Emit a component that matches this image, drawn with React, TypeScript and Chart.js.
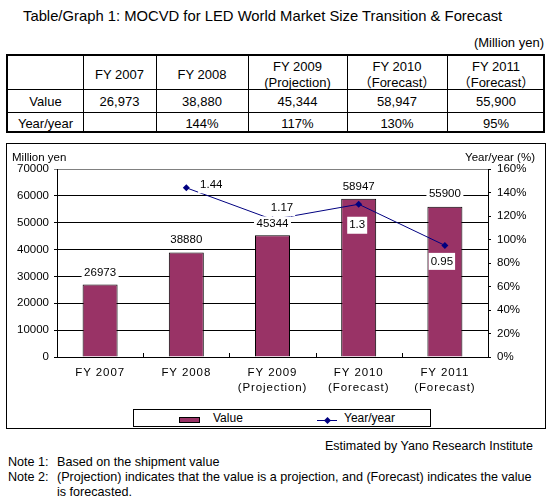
import React, { useEffect, useRef } from "react";
import { Chart, registerables } from "chart.js";

Chart.register(...registerables);

// ---------- data ----------
const xLabels: (string | string[])[] = [
  "FY 2007",
  "FY 2008",
  ["FY 2009", "(Projection)"],
  ["FY 2010", "(Forecast)"],
  ["FY 2011", "(Forecast)"],
];
const tableHeaders: string[][] = [
  ["FY 2007"],
  ["FY 2008"],
  ["FY 2009", "(Projection)"],
  ["FY 2010", "（Forecast）"],
  ["FY 2011", "（Forecast）"],
];
const values: number[] = [26973, 38880, 45344, 58947, 55900];
const yoy: (number | null)[] = [null, 1.44, 1.17, 1.3, 0.95];
const tableValues: string[] = ["26,973", "38,880", "45,344", "58,947", "55,900"];
const tableYoy: string[] = ["", "144%", "117%", "130%", "95%"];
const seriesNames: string[] = ["Value", "Year/year"];

// ---------- styles / layout ----------
const FONT = '"Liberation Sans", Arial, "Noto Sans CJK JP", sans-serif';
const BAR_COLOR = "#993366";
const LINE_COLOR = "#000080";
const barLabelDy = [-12, -12.5, -11, -12, -13.5];
const lineLabelOffsets: ([number, number] | null)[] = [null, [25, -3], [9.5, -12], [-1.5, 21], [-3, 16]];
const colEdges = [6, 83, 156, 248, 347, 447, 545];
const rowEdges = [54, 89, 112, 133];

const labelPlugin = {
  id: "valueLabels",
  afterDatasetsDraw(chart: any) {
    const ctx: CanvasRenderingContext2D = chart.ctx;
    ctx.save();
    ctx.font = `11.5px ${FONT}`;
    ctx.textAlign = "center";
    ctx.textBaseline = "middle";
    const drawBox = (text: string, x: number, y: number, px: number, py: number) => {
      const w = ctx.measureText(text).width;
      const h = 12;
      ctx.fillStyle = "#fff";
      ctx.fillRect(x - w / 2 - px, y - h / 2 - py, w + 2 * px, h + 2 * py);
      ctx.fillStyle = "#000";
      ctx.fillText(text, x, y);
    };
    const barMeta = chart.getDatasetMeta(1);
    barMeta.data.forEach((el: any, i: number) => {
      drawBox(String(values[i]), el.x, el.y + barLabelDy[i], 2.5, 1.8);
    });
    const lineMeta = chart.getDatasetMeta(0);
    lineMeta.data.forEach((el: any, i: number) => {
      const v = yoy[i];
      const o = lineLabelOffsets[i];
      if (v == null || !o) return;
      drawBox(String(v), el.x + o[0], el.y + o[1], 2, 2.5);
    });
    // inward tick marks on the category axis
    const xs = chart.scales.x;
    const bottom = chart.chartArea.bottom;
    ctx.strokeStyle = "#000";
    ctx.lineWidth = 1;
    for (let i = 1; i < values.length; i++) {
      const px = Math.round((xs.getPixelForValue(i - 1) + xs.getPixelForValue(i)) / 2) + 0.5;
      ctx.beginPath();
      ctx.moveTo(px, bottom);
      ctx.lineTo(px, bottom - 4);
      ctx.stroke();
    }
    ctx.restore();
    (ctx as any).letterSpacing = "0.9px";
  },
  afterDraw(chart: any) {
    (chart.ctx as any).letterSpacing = "0px";
  },
};

function ChartCanvas() {
  const ref = useRef<HTMLCanvasElement | null>(null);
  useEffect(() => {
    if (!ref.current) return;
    const chart = new Chart(ref.current, {
      type: "bar",
      data: {
        labels: xLabels as any,
        datasets: [
          {
            type: "line",
            label: seriesNames[1],
            data: yoy as any,
            yAxisID: "y1",
            borderColor: LINE_COLOR,
            backgroundColor: LINE_COLOR,
            borderWidth: 1,
            pointStyle: "rectRot",
            pointRadius: 3.5,
            pointBackgroundColor: LINE_COLOR,
            pointBorderColor: LINE_COLOR,
            pointBorderWidth: 0,
            tension: 0,
            order: 0,
          } as any,
          {
            type: "bar",
            label: seriesNames[0],
            data: values,
            yAxisID: "y",
            backgroundColor: BAR_COLOR,
            borderColor: "#000",
            borderWidth: 1,
            barPercentage: 0.406,
            categoryPercentage: 1,
            order: 1,
          } as any,
        ],
      },
      options: {
        responsive: false,
        animation: false,
        devicePixelRatio: 1,
        layout: { padding: { top: 25, left: 0, right: 0, bottom: 0 } },
        plugins: {
          legend: { display: false },
          tooltip: { enabled: false },
        },
        scales: {
          x: {
            type: "category",
            grid: { display: false, drawTicks: false },
            border: { display: true, color: "#000", width: 1 },
            ticks: {
              color: "#000",
              padding: 9,
              maxRotation: 0,
              autoSkip: false,
              z: 1,
              font: { family: FONT, size: 11.5, lineHeight: 1.25 },
            },
            afterFit: (s: any) => {
              s.height = 71;
            },
          },
          y: {
            position: "left",
            min: 0,
            max: 70000,
            ticks: {
              stepSize: 10000,
              color: "#000",
              padding: 5,
              font: { family: FONT, size: 11.5 },
              callback: (v: any) => String(v),
            },
            grid: {
              color: (c: any) => (c.tick && c.tick.value === 70000 ? "#808080" : "#000"),
              lineWidth: 1,
              drawTicks: true,
              tickLength: 3,
            },
            border: { display: true, color: "#000", width: 1 },
            afterFit: (s: any) => {
              s.width = 50;
            },
          },
          y1: {
            position: "right",
            min: 0,
            max: 1.6,
            ticks: {
              stepSize: 0.2,
              color: "#000",
              padding: 6,
              font: { family: FONT, size: 11.5 },
              callback: (v: any) => Math.round(Number(v) * 100) + "%",
            },
            grid: {
              drawOnChartArea: false,
              drawTicks: true,
              tickLength: 3,
              color: "#000",
            },
            border: { display: true, color: "#000", width: 1 },
            afterFit: (s: any) => {
              s.width = 57;
            },
          },
        },
      } as any,
      plugins: [labelPlugin],
    });
    return () => chart.destroy();
  }, []);
  return <canvas ref={ref} width={538} height={284} style={{ width: 538, height: 284, display: "block" }} />;
}

const abs = (s: React.CSSProperties): React.CSSProperties => ({ position: "absolute", ...s });

export default function App() {
  const innerX = colEdges[0] + 2;
  const innerY = rowEdges[0] + 2;
  const rowData: string[][] = [tableValues, tableYoy];
  const rowHeads = ["Value", "Year/year"];
  const noteStyle: React.CSSProperties = { fontSize: 12.6, lineHeight: "16px", whiteSpace: "nowrap" };
  return (
    <div
      style={abs({
        left: 0,
        top: 0,
        width: 551,
        height: 501,
        background: "#fff",
        overflow: "hidden",
        fontFamily: FONT,
        color: "#000",
      })}
    >
      <div style={abs({ left: 23, top: 7, fontSize: 14.8, lineHeight: "18px", whiteSpace: "nowrap" })}>
        Table/Graph 1: MOCVD for LED World Market Size Transition &amp; Forecast
      </div>
      <div style={abs({ left: 0, width: 544, top: 34, fontSize: 13, lineHeight: "18px", textAlign: "right" })}>
        (Million yen)
      </div>

      {/* table */}
      <div
        style={abs({
          left: colEdges[0],
          top: rowEdges[0],
          width: colEdges[6] - colEdges[0],
          height: rowEdges[3] - rowEdges[0],
          border: "2px solid #000",
          boxSizing: "border-box",
        })}
      >
        {colEdges.slice(1, 6).map((e, i) => (
          <div key={"v" + i} style={abs({ left: e - innerX, top: 0, width: 1, bottom: 0, background: "#000" })} />
        ))}
        {rowEdges.slice(1, 3).map((e, i) => (
          <div key={"h" + i} style={abs({ top: e - innerY, left: 0, height: 1, right: 0, background: "#000" })} />
        ))}
        {tableHeaders.map((lines, i) => (
          <div
            key={"th" + i}
            style={abs({
              left: colEdges[i + 1] - innerX,
              width: colEdges[i + 2] - colEdges[i + 1],
              top: 1,
              height: rowEdges[1] - rowEdges[0],
              display: "flex",
              flexDirection: "column",
              alignItems: "center",
              justifyContent: "center",
              fontSize: 13,
              lineHeight: "16px",
            })}
          >
            {lines.map((l, j) => (
              <div key={j}>{l}</div>
            ))}
          </div>
        ))}
        {rowData.map((row, r) => (
          <React.Fragment key={"r" + r}>
            <div
              style={abs({
                left: 0,
                width: colEdges[1] - innerX,
                top: rowEdges[r + 1] - innerY + 1,
                height: rowEdges[r + 2] - rowEdges[r + 1],
                display: "flex",
                alignItems: "center",
                justifyContent: "center",
                fontSize: 13,
              })}
            >
              {rowHeads[r]}
            </div>
            {row.map((cell, i) => (
              <div
                key={i}
                style={abs({
                  left: colEdges[i + 1] - innerX,
                  width: colEdges[i + 2] - colEdges[i + 1],
                  top: rowEdges[r + 1] - innerY + 1,
                  height: rowEdges[r + 2] - rowEdges[r + 1],
                  display: "flex",
                  alignItems: "center",
                  justifyContent: "center",
                  fontSize: 13,
                })}
              >
                {cell}
              </div>
            ))}
          </React.Fragment>
        ))}
      </div>

      {/* chart box */}
      <div
        style={abs({
          left: 6,
          top: 143,
          width: 540,
          height: 286,
          border: "1px solid #000",
          boxSizing: "border-box",
        })}
      >
        <ChartCanvas />
      </div>
      <div style={abs({ left: 12, top: 149, fontSize: 11.5, lineHeight: "16px", whiteSpace: "nowrap" })}>
        Million yen
      </div>
      <div style={abs({ left: 300, width: 235, top: 149, fontSize: 11.5, lineHeight: "16px", textAlign: "right" })}>
        Year/year (%)
      </div>

      {/* legend */}
      <div
        style={abs({
          left: 133,
          top: 409,
          width: 298,
          height: 18,
          border: "1px solid #000",
          boxSizing: "border-box",
          background: "#fff",
        })}
      >
        <div
          style={abs({
            left: 45,
            top: 7,
            width: 21,
            height: 6,
            background: BAR_COLOR,
            border: "1px solid #000",
            boxSizing: "border-box",
          })}
        />
        <div style={abs({ left: 79, top: 0, fontSize: 12, lineHeight: "16px" })}>{seriesNames[0]}</div>
        <div style={abs({ left: 183, top: 10, width: 20, height: 1, background: LINE_COLOR })} />
        <div
          style={abs({
            left: 190.5,
            top: 8,
            width: 5,
            height: 5,
            background: LINE_COLOR,
            transform: "rotate(45deg)",
          })}
        />
        <div style={abs({ left: 210, top: 0, fontSize: 12, lineHeight: "16px" })}>{seriesNames[1]}</div>
      </div>

      {/* notes */}
      <div style={abs({ left: 0, width: 533, top: 437, fontSize: 12.5, lineHeight: "18px", textAlign: "right" })}>
        Estimated by Yano Research Institute
      </div>
      <div style={abs({ left: 8, top: 454, ...noteStyle })}>Note 1:</div>
      <div style={abs({ left: 57, top: 454, ...noteStyle })}>Based on the shipment value</div>
      <div style={abs({ left: 8, top: 469, ...noteStyle })}>Note 2:</div>
      <div style={abs({ left: 57, top: 469, ...noteStyle })}>
        (Projection) indicates that the value is a projection, and (Forecast) indicates the value
      </div>
      <div style={abs({ left: 57, top: 483.5, ...noteStyle })}>is forecasted.</div>
    </div>
  );
}
